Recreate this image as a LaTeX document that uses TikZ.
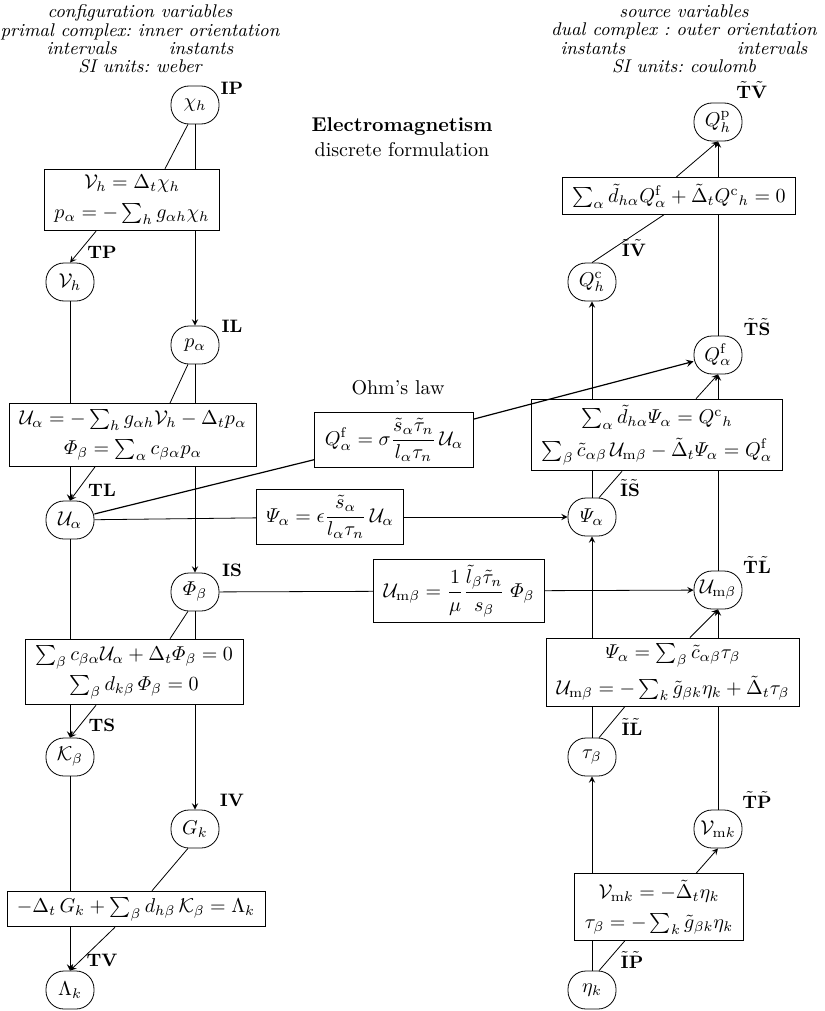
\documentclass[tikz,border=0pt]{standalone}
\usepackage{amsmath,amssymb}
\usetikzlibrary{calc}

\begin{document}
\frenchspacing
\begin{tikzpicture}[x=0.5pt, y=-0.5pt,
  var/.style={draw, rectangle, rounded corners=9pt, minimum width=24pt, minimum height=19pt, inner sep=1pt},
  eqbox/.style={draw, rectangle, align=center, inner xsep=5pt, inner ysep=3pt, fill=white},
  tag/.style={font=\bfseries\small},
  head/.style={font=\fontsize{9.2}{10}\selectfont\itshape, align=center},
  arrow/.style={->, >=stealth}
]
\useasboundingbox (0,0) rectangle (824,1011);

% Headers
\node[head] (hleft) at (140,39) {configuration variables\\[-0.8pt]primal complex: inner orientation\\[-0.8pt]intervals\hspace{26pt}instants\\[-0.8pt]SI units: weber};
\node[head] (hright) at (684,39) {source variables\\[-0.8pt]dual complex : outer orientation\\[-0.8pt]instants\hspace{56pt}intervals\\[-0.8pt]SI units: coulomb};
\node[font=\bfseries] (title) at (402,127) {Electromagnetism};
\node (subtitle) at (402,150) {discrete formulation};

% Left column: configuration variables
\node[var] (chi) at (195,105) {$\chi_h$};
\node[eqbox] (b1) at (132,200) {$\mathcal{V}_h = \Delta_t\chi_h$\\[3pt]$p_\alpha = -\sum_h g_{\alpha h}\chi_h$};
\node[var] (Vh) at (70,282) {$\mathcal{V}_h$};
\node[var] (pa) at (195,345) {$p_\alpha$};
\node[eqbox] (b2) at (133,435) {$\mathcal{U}_\alpha = -\sum_h g_{\alpha h}\mathcal{V}_h - \Delta_t p_\alpha$\\[3pt]$\varPhi_\beta = \sum_\alpha c_{\beta\alpha}p_\alpha$};
\node[var] (Ua) at (70,520) {$\mathcal{U}_\alpha$};
\node[var] (Phib) at (195,592) {$\varPhi_\beta$};
\node[eqbox] (b3) at (134,672) {$\sum_\beta c_{\beta\alpha}\mathcal{U}_\alpha + \Delta_t\varPhi_\beta = 0$\\[3pt]$\sum_\beta d_{k\beta}\,\varPhi_\beta = 0$};
\node[var] (Kb) at (70,757) {$\mathcal{K}_\beta$};
\node[var] (Gk) at (195,829) {$G_k$};
\node[eqbox] (b4) at (136,909) {$-\Delta_t\,G_k + \sum_\beta d_{h\beta}\,\mathcal{K}_\beta = \Lambda_k$};
\node[var] (Lk) at (70,990) {$\Lambda_k$};

\node[tag] (tIP) at (232,88) {IP};
\node[tag] (tTP) at (102,252) {TP};
\node[tag] (tIL) at (232,326) {IL};
\node[tag] (tTL) at (102,490) {TL};
\node[tag] (tIS) at (232,570) {IS};
\node[tag] (tTS) at (102,725) {TS};
\node[tag] (tIV) at (232,800) {IV};
\node[tag] (tTV) at (102,960) {TV};

\draw (chi.south) -- (chi.south |- b1.north);
\draw (chi.250) -- ($(chi.south |- b1.north)+(-30,0)$);
\draw[arrow] ($(Vh.north |- b1.south)+(26,0)$) -- (Vh.north);
\draw[arrow] (pa.north |- b1.south) -- (pa.north);
\draw (Vh.south) -- (Vh.south |- b2.north);
\draw (pa.south) -- (pa.south |- b2.north);
\draw (pa.250) -- ($(pa.south |- b2.north)+(-25,0)$);
\draw[arrow] (Ua.north |- b2.south) -- (Ua.north);
\draw[arrow] ($(Ua.north |- b2.south)+(25,0)$) -- (Ua.north);
\draw[arrow] (Phib.north |- b2.south) -- (Phib.north);
\draw (Ua.south) -- (Ua.south |- b3.north);
\draw (Phib.south) -- (Phib.south |- b3.north);
\draw (Phib.250) -- ($(Phib.south |- b3.north)+(-25,0)$);
\draw[arrow] (Kb.north |- b3.south) -- (Kb.north);
\draw[arrow] ($(Kb.north |- b3.south)+(26,0)$) -- (Kb.north);
\draw[arrow] (Gk.north |- b3.south) -- (Gk.north);
\draw (Kb.south) -- (Kb.south |- b4.north);
\draw (Gk.250) -- ($(Gk.south |- b4.north)+(-43,0)$);
\draw[arrow] (Lk.north |- b4.south) -- (Lk.north);
\draw[arrow] ($(Lk.north |- b4.south)+(45,0)$) -- (Lk.north);

% Right column: source variables
\node[var] (Qp) at (718,122) {$Q^{\mathrm{p}}_h$};
\node[eqbox] (r1) at (679,196) {$\sum_\alpha \tilde{d}_{h\alpha}Q^{\mathrm{f}}_\alpha + \tilde{\Delta}_t Q^{\mathrm{c}}{}_h = 0$};
\node[var] (Qc) at (592,282) {$Q^{\mathrm{c}}_h$};
\node[var] (Qf) at (718,355) {$Q^{\mathrm{f}}_\alpha$};
\node[eqbox] (r2) at (657,435) {$\sum_\alpha \tilde{d}_{h\alpha}\varPsi_\alpha = Q^{\mathrm{c}}{}_h$\\[3pt]$\sum_\beta \tilde{c}_{\alpha\beta}\,\mathcal{U}_{\mathrm{m}\beta} - \tilde{\Delta}_t\varPsi_\alpha = Q^{\mathrm{f}}_\alpha$};
\node[var] (Psi) at (592,517) {$\varPsi_\alpha$};
\node[var] (Umb) at (718,590) {$\mathcal{U}_{\mathrm{m}\beta}$};
\node[eqbox] (r3) at (673,672) {$\varPsi_\alpha = \sum_\beta \tilde{c}_{\alpha\beta}\tau_\beta$\\[3pt]$\mathcal{U}_{\mathrm{m}\beta} = -\sum_k \tilde{g}_{\beta k}\eta_k + \tilde{\Delta}_t\tau_\beta$};
\node[var] (tau) at (592,757) {$\tau_\beta$};
\node[var] (Vmk) at (718,829) {$\mathcal{V}_{\mathrm{m}k}$};
\node[eqbox] (r4) at (659,907) {$\mathcal{V}_{\mathrm{m}k} = -\tilde{\Delta}_t\eta_k$\\[3pt]$\tau_\beta = -\sum_k \tilde{g}_{\beta k}\eta_k$};
\node[var] (eta) at (592,990) {$\eta_k$};

\node[tag] (tTV2) at (752,90) {$\tilde{\mathbf{T}}\tilde{\mathbf{V}}$};
\node[tag] (tIV2) at (634,248) {$\tilde{\mathbf{I}}\tilde{\mathbf{V}}$};
\node[tag] (tTS2) at (757,327) {$\tilde{\mathbf{T}}\tilde{\mathbf{S}}$};
\node[tag] (tIS2) at (630,488) {$\tilde{\mathbf{I}}\tilde{\mathbf{S}}$};
\node[tag] (tTL2) at (757,565) {$\tilde{\mathbf{T}}\tilde{\mathbf{L}}$};
\node[tag] (tIL2) at (632,727) {$\tilde{\mathbf{I}}\tilde{\mathbf{L}}$};
\node[tag] (tTP2) at (757,800) {$\tilde{\mathbf{T}}\tilde{\mathbf{P}}$};
\node[tag] (tIP2) at (632,960) {$\tilde{\mathbf{I}}\tilde{\mathbf{P}}$};

\draw[arrow] (Qp.south |- r1.north) -- (Qp.south);
\draw[arrow] ($(Qp.south |- r1.north)+(-42,0)$) -- (Qp.south);
\draw (Qc.north) -- ($(Qc.north |- r1.south)+(72,0)$);
\draw (Qf.north) -- (Qf.north |- r1.south);
\draw[arrow] (Qc.south |- r2.north) -- (Qc.south);
\draw[arrow] (Qf.south |- r2.north) -- (Qf.south);
\draw[arrow] ($(Qf.south |- r2.north)+(-22,0)$) -- (Qf.south);
\draw (Psi.north) -- (Psi.north |- r2.south);
\draw (Psi.70) -- ($(Psi.north |- r2.south)+(30,0)$);
\draw (Umb.north) -- (Umb.north |- r2.south);
\draw[arrow] (Psi.south |- r3.north) -- (Psi.south);
\draw[arrow] (Umb.south |- r3.north) -- (Umb.south);
\draw[arrow] ($(Umb.south |- r3.north)+(-28,0)$) -- (Umb.south);
\draw (tau.north) -- (tau.north |- r3.south);
\draw (tau.70) -- ($(tau.north |- r3.south)+(33,0)$);
\draw (Vmk.north) -- (Vmk.north |- r3.south);
\draw[arrow] (tau.south |- r4.north) -- (tau.south);
\draw[arrow] ($(Vmk.south |- r4.north)+(-22,0)$) -- (Vmk.south);
\draw (eta.north) -- (eta.north |- r4.south);
\draw (eta.70) -- ($(eta.north |- r4.south)+(33,0)$);

% Constitutive equations
\node (ohmtxt) at (398,388) {Ohm's law};
\node[eqbox] (ohm) at (394,440) {$Q^{\mathrm{f}}_\alpha = \sigma\dfrac{\tilde{s}_\alpha\tilde{\tau}_n}{l_\alpha\tau_n}\,\mathcal{U}_\alpha$};
\node[eqbox] (diel) at (330,517) {$\varPsi_\alpha = \epsilon\dfrac{\tilde{s}_\alpha}{l_\alpha\tau_n}\,\mathcal{U}_\alpha$};
\node[eqbox] (magn) at (459,591) {$\mathcal{U}_{\mathrm{m}\beta} = \dfrac{1}{\mu}\dfrac{\tilde{l}_\beta\tilde{\tau}_n}{s_\beta}\;\varPhi_\beta$};

\draw[semithick] (Ua) -- (ohm);
\draw[semithick, arrow] (ohm) -- (Qf);
\draw (Ua) -- (diel);
\draw[arrow] (diel) -- (Psi);
\draw (Phib) -- (magn);
\draw[arrow] (magn) -- (Umb);

\end{tikzpicture}
\end{document}
